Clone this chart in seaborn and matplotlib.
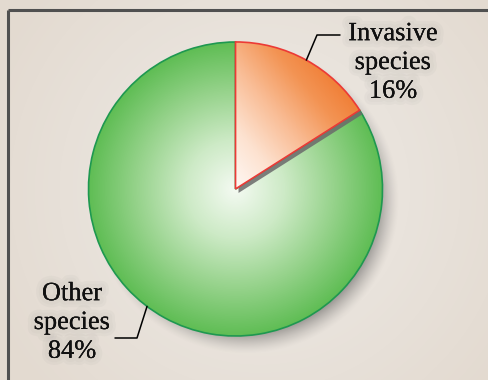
import numpy as np
import matplotlib
matplotlib.use("Agg")
import matplotlib.pyplot as plt
import matplotlib.patheffects as pe
from matplotlib import font_manager
from matplotlib.colors import LinearSegmentedColormap
from matplotlib.patches import Wedge
import seaborn as sns

# data
labels = ["Invasive\nspecies\n16%", "Other\nspecies\n84%"]
shares = [16, 84]
explode = [0.055, 0.0]

W, H = 488, 380
CX, CY, R = 235.5, 191.0, 147.0

sns.set_theme(style="white")
plt.rcParams["font.family"] = ["Liberation Serif", "DejaVu Serif"]
serif_path = font_manager.findfont(font_manager.FontProperties(family="Liberation Serif"))
serif_font = font_manager.FontProperties(fname=serif_path, size=19)

fig = plt.figure(figsize=(W / 100, H / 100), dpi=100)
ax = fig.add_axes([0, 0, 1, 1])

yy, xx = np.mgrid[0:H, 0:W] + 0.5

# background: warm beige, a bit lighter in the middle
bg_cmap = LinearSegmentedColormap.from_list("bg", ["#eeeae5", "#e9e3dc", "#e3dad0"])
d_bg = np.hypot(xx - 260, yy - 190) / 300
ax.imshow(bg_cmap(np.clip(d_bg, 0, 1)), extent=(0, W, 0, H), origin="lower", zorder=0)

# frame only on top and left
ax.plot([8, 8], [0, H - 10], color="#505050", lw=2.2, zorder=1, solid_capstyle="butt")
ax.plot([8, W], [H - 10, H - 10], color="#505050", lw=2.2, zorder=1, solid_capstyle="butt")

# soft drop shadow under the pie
d_sh = np.hypot(xx - (CX + 10), yy - (CY - 11))
a_sh = np.clip((R + 7 - d_sh) / 22, 0, 1) ** 1.4 * 0.5
shadow = np.zeros((H, W, 4))
shadow[..., :3] = 0.28
shadow[..., 3] = a_sh
ax.imshow(shadow, extent=(0, W, 0, H), origin="lower", zorder=1)

wedges, _ = ax.pie(
    shares,
    explode=explode,
    startangle=90,
    counterclock=False,
    center=(CX, CY),
    radius=R,
    frame=True,
)
inv, oth = wedges

# green slice: radial gradient from centre
g_cmap = LinearSegmentedColormap.from_list(
    "g", ["#f4faf2", "#cdeac6", "#97d38c", "#5fbd54"])
t_g = np.clip(np.hypot(xx - CX, yy - CY) / R, 0, 1)
oth.set_facecolor("none")
oth.set_edgecolor("#1e9850")
oth.set_linewidth(1.2)
oth.set_zorder(3)
im_g = ax.imshow(g_cmap(t_g), extent=(0, W, 0, H), origin="lower", zorder=2)
im_g.set_clip_path(oth)

# shadow of the pulled-out slice on the green one
vx, vy = inv.center
sh_w = Wedge((vx + 3, vy - 4), R, inv.theta1, inv.theta2,
             facecolor="#6a6a6a", edgecolor="none", alpha=0.85, zorder=3.5)
ax.add_patch(sh_w)

# orange slice: gradient running from the tip towards the rim
o_cmap = LinearSegmentedColormap.from_list(
    "o", ["#fff8f4", "#fde2d0", "#f9bd96", "#f39454", "#ef772c"])
ang = np.deg2rad(40)
t_o = ((xx - vx) * np.cos(ang) + (yy - vy) * np.sin(ang)) / (R * 1.08)
inv.set_facecolor("none")
inv.set_edgecolor("#ec3a36")
inv.set_linewidth(1.2)
inv.set_zorder(5)
im_o = ax.imshow(o_cmap(np.clip(t_o, 0, 1)), extent=(0, W, 0, H), origin="lower", zorder=4)
im_o.set_clip_path(inv)

txt_fx = [pe.Stroke(linewidth=10, foreground=(0.5, 0.5, 0.5, 0.05)),
          pe.Stroke(linewidth=6, foreground=(0.5, 0.5, 0.5, 0.04)),
          pe.Normal()]

# leader lines, starting on the rim of each slice
a_inv = np.deg2rad((inv.theta1 + inv.theta2) / 2)
p0 = (vx + R * np.cos(a_inv), vy + R * np.sin(a_inv))
ax.plot([p0[0], 317, 340], [p0[1], H - 35, H - 35], color="black", lw=1.1, zorder=6)

a_oth = np.deg2rad(233)
q0 = (CX + R * np.cos(a_oth), CY + R * np.sin(a_oth))
ax.plot([q0[0], 137, 115], [q0[1], H - 338, H - 338], color="black", lw=1.1, zorder=6)

ax.text(393, H - 63, labels[0], ha="center", va="center", fontproperties=serif_font,
        linespacing=1.4, color="#111111", zorder=7, path_effects=txt_fx)
ax.text(72, H - 323, labels[1], ha="center", va="center", fontproperties=serif_font,
        linespacing=1.4, color="#111111", zorder=7, path_effects=txt_fx)

ax.set_xlim(0, W)
ax.set_ylim(0, H)
ax.set_aspect("auto")
ax.axis("off")

fig.savefig("out.png", dpi=100)
